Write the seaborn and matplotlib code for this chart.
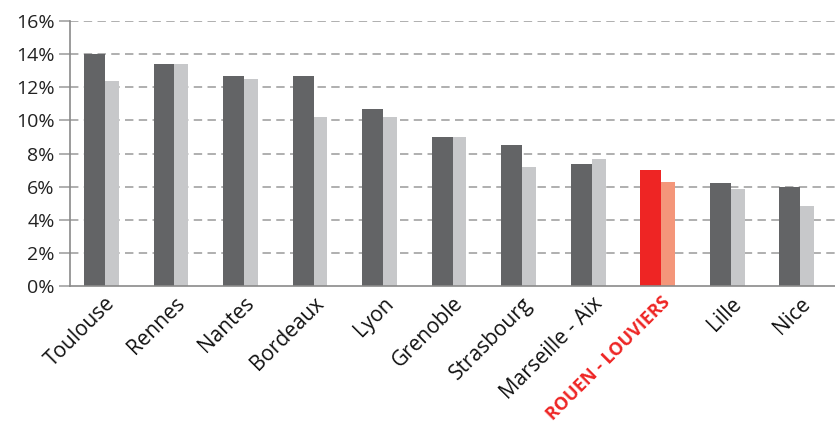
import seaborn as sns
import matplotlib.pyplot as plt
import numpy as np

# data
cities = ["Toulouse", "Rennes", "Nantes", "Bordeaux", "Lyon", "Grenoble",
          "Strasbourg", "Marseille - Aix", "ROUEN - LOUVIERS", "Lille", "Nice"]
serie_1 = [14.0, 13.4, 12.7, 12.7, 10.7, 9.0, 8.5, 7.35, 7.0, 6.2, 6.0]
serie_2 = [12.35, 13.4, 12.5, 10.2, 10.2, 9.0, 7.2, 7.7, 6.3, 5.85, 4.85]
highlight = "ROUEN - LOUVIERS"

dark, light = "#636466", "#c7c8ca"
red, salmon = "#ee2524", "#f4967a"

sns.set_style("white")
plt.rcParams["font.family"] = ["Open Sans", "DejaVu Sans"]

fig = plt.figure(figsize=(8.35, 4.37), dpi=100)
ax = fig.add_axes([0.084, 0.345, 0.916, 0.607])

pal_1 = [red if c == highlight else dark for c in cities]
pal_2 = [salmon if c == highlight else light for c in cities]

# first series: wider bar, to the left of the category centre
sns.barplot(x=cities, y=serie_1, hue=cities, palette=pal_1, width=0.3,
            legend=False, ax=ax, saturation=1, linewidth=0)
n1 = len(ax.patches)
for p in ax.patches:
    p.set_x(p.get_x() - 0.15)
# second series: narrower bar, right of the centre
sns.barplot(x=cities, y=serie_2, hue=cities, palette=pal_2, width=0.2,
            legend=False, ax=ax, saturation=1, linewidth=0)
for p in ax.patches[n1:]:
    p.set_x(p.get_x() + 0.1)

ax.set_xlim(-0.5, len(cities) - 0.5)
ax.set_ylim(0, 16)
ax.set_yticks(np.arange(0, 17, 2))
ax.set_yticklabels([f"{v}%" for v in range(0, 17, 2)], fontsize=14, color="#222222")

# grid
for v in range(2, 17, 2):
    ax.axhline(v, color="#9a9a9a", lw=1.1, ls=(0, (5.5, 3.5)), zorder=0)
ax.set_axisbelow(True)

# ticks at category boundaries
ax.set_xticks(np.arange(len(cities)))
ax.set_xticklabels(cities, rotation=45, ha="right", rotation_mode="anchor",
                   fontsize=15, color="#111111")
ax.tick_params(axis="x", length=0, pad=5)
ax.set_xticks(np.arange(-0.5, len(cities), 1), minor=True)
ax.tick_params(axis="x", which="minor", length=8, width=1.2, color="#8a8a8a")
ax.tick_params(axis="y", length=8, width=1.1, color="#9a9a9a", pad=3, left=True)

for lbl in ax.get_xticklabels():
    if lbl.get_text() == highlight:
        lbl.set_color(red)
        lbl.set_fontweight("bold")
        lbl.set_fontsize(13)

for s in ["top", "right"]:
    ax.spines[s].set_visible(False)
for s in ["left", "bottom"]:
    ax.spines[s].set_color("#8a8a8a")
    ax.spines[s].set_linewidth(1.2)

fig.savefig("out.png", dpi=100)
